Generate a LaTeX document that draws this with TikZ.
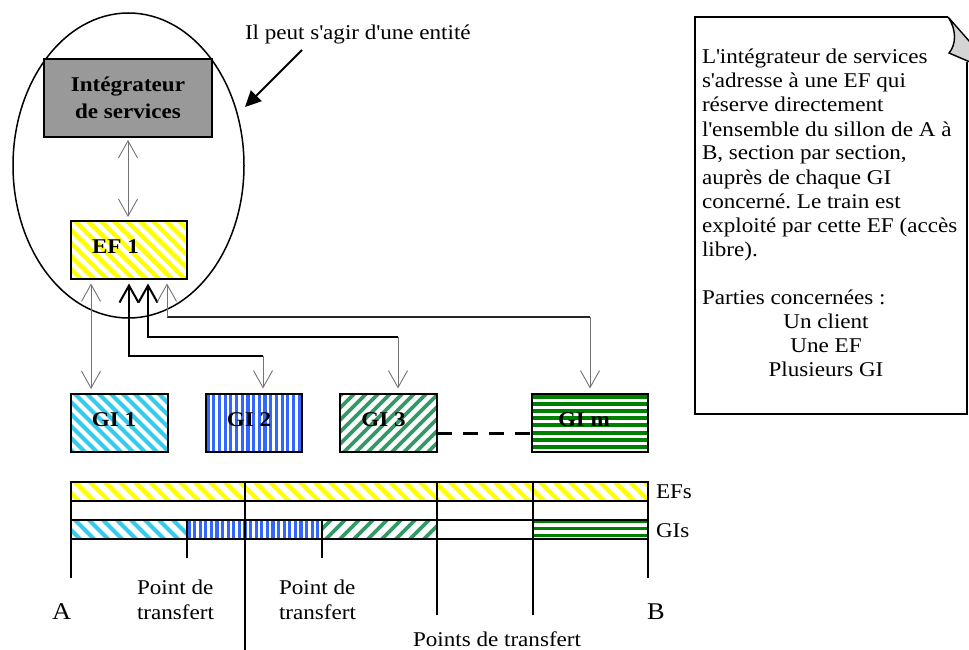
\documentclass[tikz,border=0pt]{standalone}
\usepackage{fontspec}
\setmainfont{Liberation Serif}[FakeStretch=1.1]
\usetikzlibrary{arrows.meta,calc,shapes.geometric}
\definecolor{efyellow}{HTML}{FFFF00}
\definecolor{gicyan}{HTML}{33CCEE}
\definecolor{giblue}{HTML}{3366FF}
\definecolor{gigreen}{HTML}{339966}
\definecolor{gidkgreen}{HTML}{008000}
\definecolor{intgray}{HTML}{999999}
\definecolor{flapgray}{HTML}{D4D4D4}
\newcommand{\q}{\textquotesingle}
\frenchspacing

\newcommand{\hatchNW}[4]{%
  \begin{scope}
    \clip (#1.north west) rectangle (#1.south east);
    \foreach \k in {-6,...,48}
      \draw[#2, line width=#4] ($(#1.north west)+({\k*#3},-4)$) -- ++(70,70);
  \end{scope}}
\newcommand{\hatchNE}[4]{%
  \begin{scope}
    \clip (#1.north west) rectangle (#1.south east);
    \foreach \k in {-6,...,48}
      \draw[#2, line width=#4] ($(#1.south west)+({\k*#3},4)$) -- ++(70,-70);
  \end{scope}}
\newcommand{\hatchV}[5]{%
  \begin{scope}
    \clip (#1.north west) rectangle (#1.south east);
    \foreach \k in {0,...,30}
      \draw[#2, line width=#4] ($(#1.north west)+({\k*#3+#5},-3)$) -- ++(0,70);
  \end{scope}}
\newcommand{\hatchH}[5]{%
  \begin{scope}
    \clip (#1.north west) rectangle (#1.south east);
    \foreach \k in {0,...,10}
      \draw[#2, line width=#4] ($(#1.north west)+(-3,{\k*#3+#5})$) -- ++(130,0);
  \end{scope}}

\begin{document}
\begin{tikzpicture}[x=1pt,y=-1pt,
  txt/.style={font=\fontsize{21}{24}\selectfont\frenchspacing, inner sep=0pt, outer sep=0pt},
  bigtxt/.style={font=\fontsize{24}{26}\selectfont, inner sep=0pt, outer sep=0pt},
  btxt/.style={font=\bfseries\fontsize{21}{27}\selectfont, inner sep=0pt, align=center},
  cell/.style={rectangle, inner sep=0pt, outer sep=0pt},
  frame/.style={draw=black, line width=1.4pt},
  thinln/.style={draw=black!55, line width=0.9pt},
  darkln/.style={draw=black!85, line width=1.2pt},
  thickln/.style={draw=black, line width=2pt},
  >={Straight Barb[length=17pt,width=19pt]}
]
\path[use as bounding box] (0,0) rectangle (969,650);

% entity ellipse and its label
\node[ellipse, draw, line width=1.5pt, minimum width=231pt, minimum height=305pt, inner sep=0pt] (ent) at (128.5,165.5) {};
\node[txt, anchor=base west] (ilpeut) at (245,40) {Il peut s\q agir d\q une entité};
\coordinate (arrS) at (302,50);
\coordinate (arrE) at (245,107);
\draw[line width=2pt, -{Triangle[length=16pt,width=15pt]}] (arrS) -- (arrE);

% integrator
\node[cell, frame, fill=intgray, minimum width=168pt, minimum height=78pt, btxt] (intg) at (128,98) {Intégrateur\\de services};

% EF 1
\node[cell, minimum width=116pt, minimum height=58pt] (ef1) at (129,250) {};
\hatchNW{ef1}{efyellow}{13}{4.5pt}
\draw[frame] (ef1.north west) rectangle (ef1.south east);
\node[btxt] (ef1t) at (115.5,247) {EF 1};

% GI boxes
\node[cell, minimum width=97pt, minimum height=58pt] (gi1) at (119.5,423) {};
\hatchNW{gi1}{gicyan}{12}{4pt}
\draw[frame] (gi1.north west) rectangle (gi1.south east);
\node[btxt] (gi1t) at (114,420) {GI 1};

\node[cell, minimum width=96pt, minimum height=58pt] (gi2) at (254,423) {};
\hatchV{gi2}{giblue}{5.7}{3.2pt}{2}
\draw[frame] (gi2.north west) rectangle (gi2.south east);
\node[btxt] (gi2t) at (249,420) {GI 2};

\node[cell, minimum width=97pt, minimum height=58pt] (gi3) at (388.5,423) {};
\hatchNE{gi3}{gigreen}{12}{3.6pt}
\draw[frame] (gi3.north west) rectangle (gi3.south east);
\node[btxt] (gi3t) at (383.5,420) {GI 3};

\node[cell, minimum width=116pt, minimum height=58pt] (gim) at (590,423) {};
\hatchH{gim}{gidkgreen}{7.2}{4pt}{2.5}
\draw[frame] (gim.north west) rectangle (gim.south east);
\node[btxt] (gimt) at (584,420) {GI m};

\draw[line width=3pt, dash pattern=on 15pt off 11pt] ($(gi3.east)+(0,10)$) -- ($(gim.west)+(0,10)$);

% connectors
\draw[thinln, <->, shorten <=3pt, shorten >=4pt] (intg.south) -- (intg.south |- ef1.north);

\coordinate (g1x) at ($(gi1.north west)+(20,0)$);
\draw[thinln, <->, shorten <=4.5pt, shorten >=5pt] (g1x |- ef1.south) -- (g1x);

\coordinate (aC) at ($(ef1.south)+(0,77)$);
\coordinate (aD) at ($(gi2.north)+(9,-38)$);
\draw[thickln, ->, shorten >=4.5pt] (aD) -- (aC) -- (ef1.south);
\draw[thinln, ->, shorten >=5.5pt] (aD) -- (aD |- gi2.north);

\coordinate (bS) at ($(ef1.south)+(19,0)$);
\coordinate (bC) at ($(bS)+(0,58)$);
\coordinate (bD) at ($(gi3.north)+(9.5,-57)$);
\draw[thickln, ->, shorten >=4.5pt] (bD) -- (bC) -- (bS);
\draw[thinln, ->, shorten >=5.5pt] (bD) -- (bD |- gi3.north);

\coordinate (cS) at ($(ef1.south)+(38,0)$);
\coordinate (cC) at ($(cS)+(0,38)$);
\coordinate (cD) at ($(gim.north)+(0,-77)$);
\draw[darkln] (cD) -- (cC);
\draw[thinln, ->, shorten >=4.5pt] (cC) -- (cS);
\draw[thinln, ->, shorten >=5.5pt] (cD) -- (cD |- gim.north);

% note
\draw[frame] (948,17) -- (695,17) -- (695,414) -- (967,414) -- (967,62);
\filldraw[fill=flapgray, draw=black, line width=1.4pt] (948,17) .. controls (957,30) and (956,45) .. (949,53) -- (970,62) -- (970,42) -- cycle;
\node[txt, anchor=base west] (n1) at (702,64) {L\q intégrateur de services};
\node[txt, anchor=base west] (n2) at (702,88) {s\q adresse à une EF qui};
\node[txt, anchor=base west] (n3) at (702,112) {réserve directement};
\node[txt, anchor=base west] (n4) at (702,136) {l\q ensemble du sillon de A à};
\node[txt, anchor=base west] (n5) at (702,160) {B, section par section,};
\node[txt, anchor=base west] (n6) at (702,184) {auprès de chaque GI};
\node[txt, anchor=base west] (n7) at (702,208) {concerné. Le train est};
\node[txt, anchor=base west] (n8) at (702,232) {exploité par cette EF (accès};
\node[txt, anchor=base west] (n9) at (702,256) {libre).};
\node[txt, anchor=base west] (n10) at (702,304) {Parties concernées :};
\node[txt, anchor=base] (n11) at (826,328) {Un client};
\node[txt, anchor=base] (n12) at (826,352) {Une EF};
\node[txt, anchor=base] (n13) at (826,376) {Plusieurs GI};

% bottom bars
\node[cell, minimum width=577pt, minimum height=19pt] (efs) at (359.5,491.5) {};
\hatchNW{efs}{efyellow}{15}{4.5pt}
\node[cell, minimum width=116pt, minimum height=19pt] (gs1) at (129,529.5) {};
\hatchNW{gs1}{gicyan}{14}{4pt}
\node[cell, minimum width=135pt, minimum height=19pt] (gs2) at (254.5,529.5) {};
\hatchV{gs2}{giblue}{5.6}{3.2pt}{2}
\node[cell, minimum width=115pt, minimum height=19pt] (gs3) at (379.5,529.5) {};
\hatchNE{gs3}{gigreen}{14}{3.6pt}
\node[cell, minimum width=96pt, minimum height=19pt] (gs4) at (485,529.5) {};
\node[cell, minimum width=115pt, minimum height=19pt] (gs5) at (590.5,529.5) {};
\hatchH{gs5}{gidkgreen}{7}{3.6pt}{1.5}

\draw[frame] (efs.north west) rectangle (efs.south east);
\draw[frame] (gs1.north west) rectangle (gs5.south east);
\draw[frame] (71,482) -- (71,578);
\draw[frame] (648,482) -- (648,578);
\draw[frame] (245,482) -- (245,650);
\draw[frame] (437,482) -- (437,615);
\draw[frame] (533,482) -- (533,615);
\draw[frame] (187,520) -- (187,558);
\draw[frame] (322,520) -- (322,558);

\node[txt, anchor=base west] (lefs) at (656,498) {EFs};
\node[txt, anchor=base west] (lgis) at (656,537) {GIs};
\node[bigtxt, anchor=base west] (la) at (52,619) {A};
\node[bigtxt, anchor=base west] (lb) at (647,619) {B};
\node[txt, anchor=base west] (p1a) at (137,594) {Point de};
\node[txt, anchor=base west] (p1b) at (137,619) {transfert};
\node[txt, anchor=base west] (p2a) at (279,594) {Point de};
\node[txt, anchor=base west] (p2b) at (279,619) {transfert};
\node[txt, anchor=base west] (pts) at (413,646) {Points de transfert};
\end{tikzpicture}
\end{document}
